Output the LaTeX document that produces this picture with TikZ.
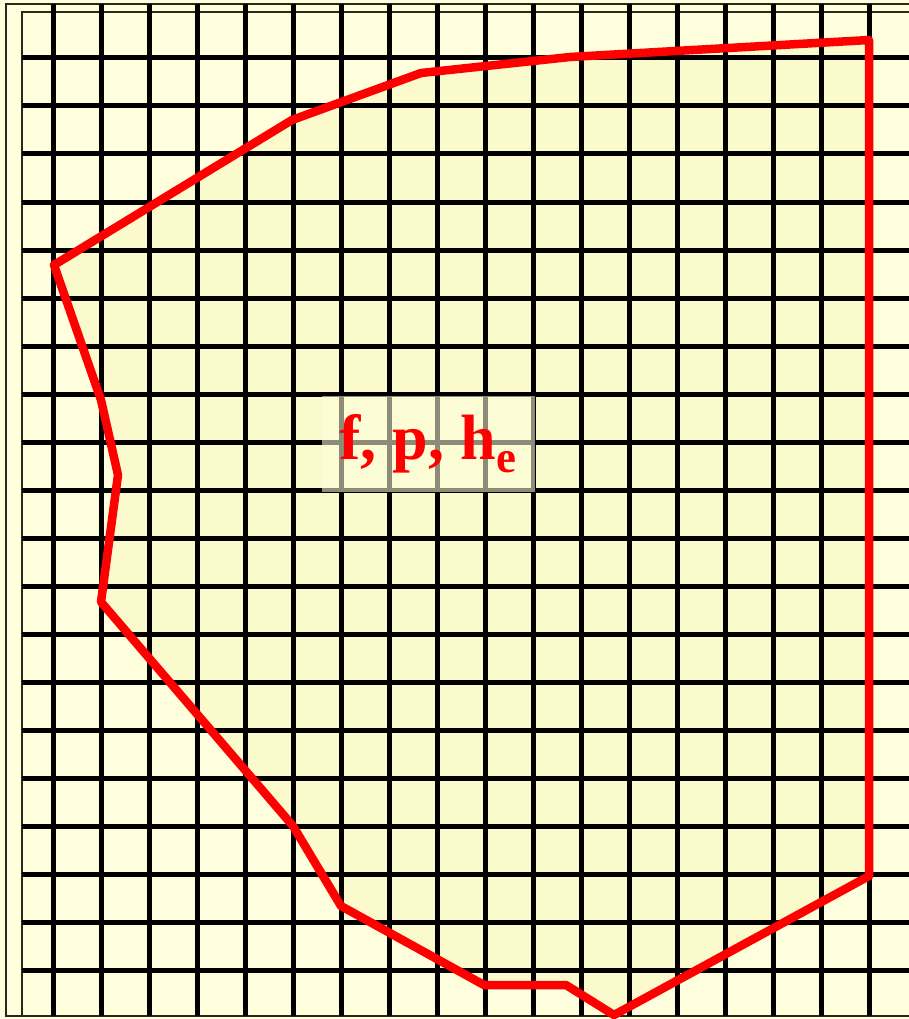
\documentclass[tikz,border=0pt]{standalone}
\usepackage{fontspec}
\setmainfont{Liberation Serif}
\definecolor{bgyellow}{RGB}{255,255,221}
\definecolor{regionyellow}{RGB}{250,250,204}
\definecolor{framegray}{RGB}{40,40,30}
\begin{document}
\begin{tikzpicture}[x=1pt,y=-1pt,
  gridline/.style={line width=5pt, black},
  frameline/.style={line width=2.2pt, framegray},
  regionline/.style={draw=red, line width=8.5pt, line join=round},
  labelbox/.style={fill=bgyellow, fill opacity=0.55, text opacity=1, text=red,
    font=\bfseries\fontsize{64}{70}\selectfont, inner sep=0pt,
    minimum width=213pt, minimum height=96pt}
  ]
\useasboundingbox (0,0) rectangle (909,1019);
\fill[bgyellow] (0,0) rectangle (909,1019);
% region fill
\fill[regionyellow] (54,265) -- (292,120) -- (421,73) -- (570,57) -- (869,40)
  -- (869,876) -- (614,1015) -- (566,985) -- (484,985) -- (341,906)
  -- (293,826) -- (101,602) -- (118,475) -- (101,400) -- cycle;
% frames
\draw[frameline] (912,4) -- (6,4) -- (6,1016) -- (912,1016);
\draw[frameline] (912,12) -- (22,12) -- (22,1016);
% grid
\foreach \i in {0,...,17} \draw[gridline] ({53+48*\i},4) -- ({53+48*\i},1016);
\foreach \j in {0,...,19} \draw[gridline] (22,{58+48*\j}) -- (912,{58+48*\j});
% region outline
\draw[regionline] (54,265) -- (292,120) -- (421,73) -- (570,57) -- (869,40)
  -- (869,876) -- (614,1015) -- (566,985) -- (484,985) -- (341,906)
  -- (293,826) -- (101,602) -- (118,475) -- (101,400) -- cycle;
% label
\node[labelbox] (label) at (428,444) {f, p, h\textsubscript{e}};
\end{tikzpicture}
\end{document}
